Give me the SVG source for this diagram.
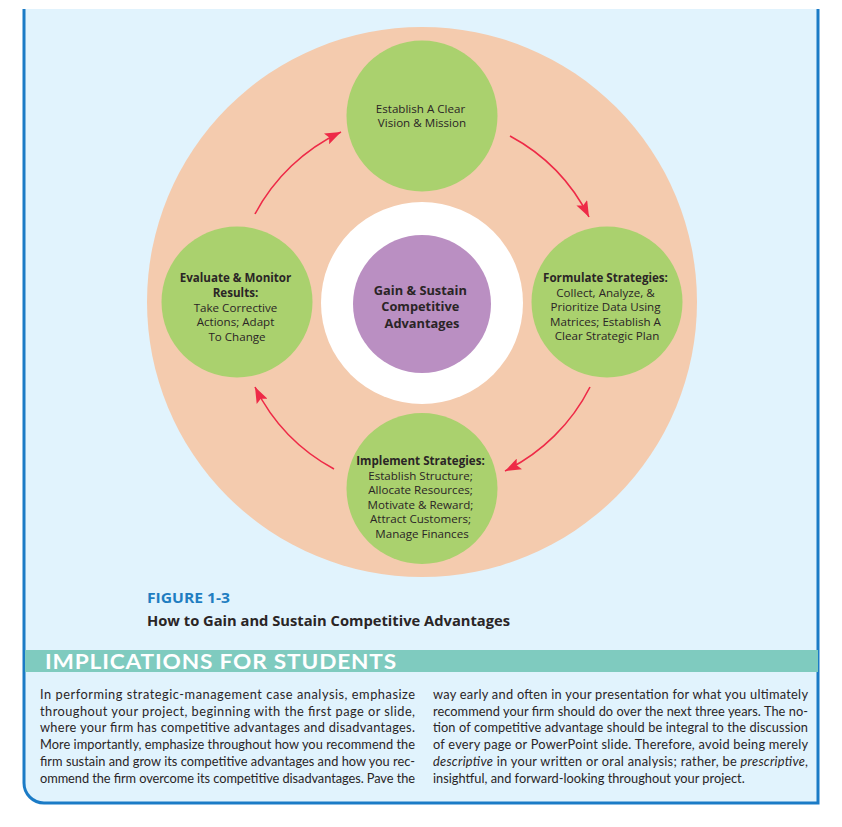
<svg xmlns="http://www.w3.org/2000/svg" width="842" height="827" viewBox="0 0 842 827">
  <style>
    .node { font-family: "Open Sans", Lato, "Liberation Sans", sans-serif; font-size: 11.6px; fill: #2a2526; text-anchor: middle; }
    .b { font-weight: bold; }
    .green { fill: #aad16e; }
    .arc { fill: none; stroke: #ee2a47; stroke-width: 1.6; }
    .body { font-family: Lato, "Open Sans", "Liberation Sans", sans-serif; font-size: 12.8px; fill: #2a2526; }
    .cap { font-family: "Open Sans", Lato, "Liberation Sans", sans-serif; font-size: 14px; font-weight: bold; }
  </style>
  <defs>
    <marker id="ah" markerUnits="userSpaceOnUse" markerWidth="16" markerHeight="12" viewBox="0 0 16 12" refX="16" refY="6" orient="auto">
      <path d="M0,0 L16,6 L0,12 L3,6 Z" fill="#ee2a47"/>
    </marker>
  </defs>
  <rect width="842" height="827" fill="#ffffff"/>
  <path id="frame" d="M24,9 V783 A20,20 0 0 0 44,803 H818 V9 Z" fill="#e1f3fd" stroke="none"/>
  <path d="M24,9 V783 A20,20 0 0 0 44,803 H818 V9" fill="none" stroke="#1b7bc6" stroke-width="3"/>

  <circle id="ring" cx="422" cy="302" r="275" fill="#f4cbae"/>
  <circle cx="422" cy="303" r="101" fill="#ffffff"/>

  <g id="connectors">
    <path class="arc" d="M255,214 A188,188 0 0 1 341,132" marker-end="url(#ah)"/>
    <path class="arc" d="M510,136 A188,188 0 0 1 589,217" marker-end="url(#ah)"/>
    <path class="arc" d="M590,387 A188,188 0 0 1 505,471" marker-end="url(#ah)"/>
    <path class="arc" d="M334,469 A188,188 0 0 1 255,387" marker-end="url(#ah)"/>
  </g>

  <g id="center">
    <circle cx="422" cy="304" r="69" fill="#ba8fc2"/>
    <text class="node b" style="font-size:12.8px">
      <tspan x="422" y="294.5">Gain &amp; Sustain</tspan>
      <tspan x="422" y="311">Competitive</tspan>
      <tspan x="422" y="327.5">Advantages</tspan>
    </text>
  </g>

  <g id="vision">
    <circle class="green" cx="422" cy="116" r="75.5"/>
    <text class="node">
      <tspan x="422" y="113">Establish A Clear</tspan>
      <tspan x="422" y="127">Vision &amp; Mission</tspan>
    </text>
  </g>

  <g id="formulate">
    <circle class="green" cx="607" cy="302" r="75.5"/>
    <text class="node">
      <tspan class="b" x="607" y="282">Formulate Strategies:</tspan>
      <tspan x="607" y="296.5">Collect, Analyze, &amp;</tspan>
      <tspan x="607" y="311">Prioritize Data Using</tspan>
      <tspan x="607" y="325.5">Matrices; Establish A</tspan>
      <tspan x="607" y="340">Clear Strategic Plan</tspan>
    </text>
  </g>

  <g id="implement">
    <circle class="green" cx="422" cy="488.5" r="75.5"/>
    <text class="node">
      <tspan class="b" x="422" y="465">Implement Strategies:</tspan>
      <tspan x="422" y="479.5">Establish Structure;</tspan>
      <tspan x="422" y="494">Allocate Resources;</tspan>
      <tspan x="422" y="508.5">Motivate &amp; Reward;</tspan>
      <tspan x="422" y="523">Attract Customers;</tspan>
      <tspan x="422" y="537.5">Manage Finances</tspan>
    </text>
  </g>

  <g id="evaluate">
    <circle class="green" cx="237" cy="302" r="75.5"/>
    <text class="node">
      <tspan class="b" x="237" y="282">Evaluate &amp; Monitor</tspan>
      <tspan class="b" x="237" y="296.5">Results:</tspan>
      <tspan x="237" y="311.5">Take Corrective</tspan>
      <tspan x="237" y="326">Actions; Adapt</tspan>
      <tspan x="237" y="340.5">To Change</tspan>
    </text>
  </g>

  <g id="caption">
    <text class="cap" x="147" y="603" fill="#1f7dc1" textLength="83" lengthAdjust="spacingAndGlyphs">FIGURE 1-3</text>
    <text class="cap" x="147" y="626" fill="#2a2526" textLength="363" lengthAdjust="spacingAndGlyphs">How to Gain and Sustain Competitive Advantages</text>
  </g>

  <g id="implications">
    <rect x="25" y="650" width="793" height="22" fill="#7fcbbf"/>
    <text x="45" y="669" fill="#ffffff" font-family="Lato, 'Open Sans', 'Liberation Sans', sans-serif" font-size="21.5" font-weight="bold" letter-spacing="0.8" textLength="352" lengthAdjust="spacingAndGlyphs">IMPLICATIONS FOR STUDENTS</text>

    <text class="body" x="40" y="699" textLength="375" lengthAdjust="spacing">In performing strategic-management case analysis, emphasize</text>
    <text class="body" x="40" y="715.7" textLength="375" lengthAdjust="spacing">throughout your project, beginning with the first page or slide,</text>
    <text class="body" x="40" y="732.4" textLength="375" lengthAdjust="spacing">where your firm has competitive advantages and disadvantages.</text>
    <text class="body" x="40" y="749.1" textLength="375" lengthAdjust="spacing">More importantly, emphasize throughout how you recommend the</text>
    <text class="body" x="40" y="765.8" textLength="375" lengthAdjust="spacing">firm sustain and grow its competitive advantages and how you rec-</text>
    <text class="body" x="40" y="782.5" textLength="375" lengthAdjust="spacing">ommend the firm overcome its competitive disadvantages. Pave the</text>

    <text class="body" x="433" y="699" textLength="375" lengthAdjust="spacing">way early and often in your presentation for what you ultimately</text>
    <text class="body" x="433" y="715.7" textLength="375" lengthAdjust="spacing">recommend your firm should do over the next three years. The no-</text>
    <text class="body" x="433" y="732.4" textLength="375" lengthAdjust="spacing">tion of competitive advantage should be integral to the discussion</text>
    <text class="body" x="433" y="749.1" textLength="375" lengthAdjust="spacing">of every page or PowerPoint slide. Therefore, avoid being merely</text>
    <text class="body" x="433" y="765.8" textLength="375" lengthAdjust="spacing"><tspan font-style="italic">descriptive</tspan> in your written or oral analysis; rather, be <tspan font-style="italic">prescriptive</tspan>,</text>
    <text class="body" x="433" y="782.5">insightful, and forward-looking throughout your project.</text>
  </g>
</svg>
